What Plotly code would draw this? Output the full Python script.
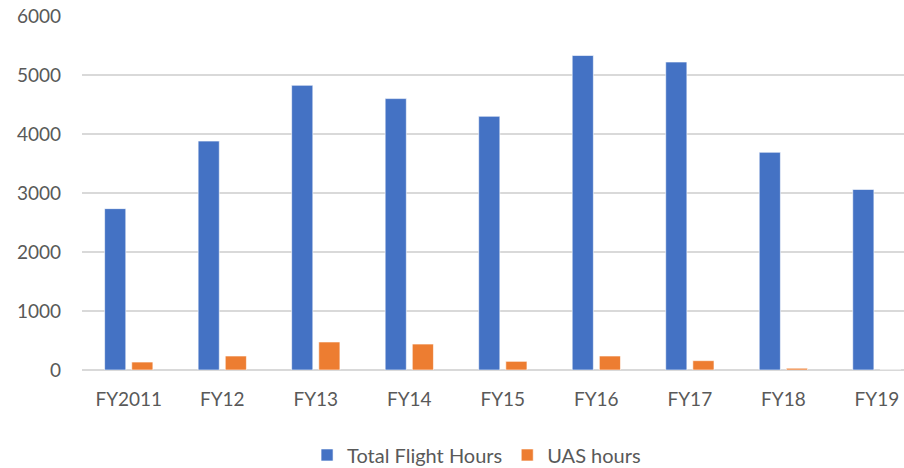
import plotly.graph_objects as go

categories = ["FY2011", "FY12", "FY13", "FY14", "FY15", "FY16", "FY17", "FY18", "FY19"]
total_flight_hours = [2735, 3880, 4825, 4600, 4300, 5330, 5220, 3690, 3060]
uas_hours = [135, 237, 475, 440, 147, 237, 158, 30, 0]

FONT = "Lato, 'Open Sans', sans-serif"
TXT = "#595959"

fig = go.Figure()
fig.add_trace(go.Bar(x=categories, y=total_flight_hours, name="Total Flight Hours",
                     marker=dict(color="#4472C4", line=dict(color="#ffffff", width=0.6))))
fig.add_trace(go.Bar(x=categories, y=uas_hours, name="UAS hours",
                     marker=dict(color="#ED7D31", line=dict(color="#ffffff", width=0.6))))

fig.update_layout(
    width=904, height=468,
    margin=dict(l=82, r=0, t=16, b=98, autoexpand=False),
    paper_bgcolor="white", plot_bgcolor="white",
    barmode="group", bargap=0.42, bargroupgap=0.22,
    font=dict(family=FONT, size=19, color=TXT),
    showlegend=True,
    legend=dict(orientation="h", x=0.48, xanchor="center", y=-0.24, yanchor="middle",
                font=dict(family=FONT, size=20, color=TXT),
                traceorder="normal"),
)
fig.update_xaxes(range=[-0.5, 8.29], showgrid=False, showline=False, ticks="", automargin=False,
                 tickfont=dict(family=FONT, size=19, color=TXT), ticklabelstandoff=16)
fig.update_yaxes(range=[0, 6000], dtick=1000, showgrid=True, gridcolor="#D9D9D9", gridwidth=1.5,
                 zeroline=True, zerolinecolor="#D9D9D9", zerolinewidth=1.5, automargin=False,
                 showline=False, ticks="", ticklabelstandoff=20,
                 tickfont=dict(family=FONT, size=19, color=TXT))

fig.write_html("out.html", config={"displayModeBar": False},
               post_script="document.body.style.margin='0';")
